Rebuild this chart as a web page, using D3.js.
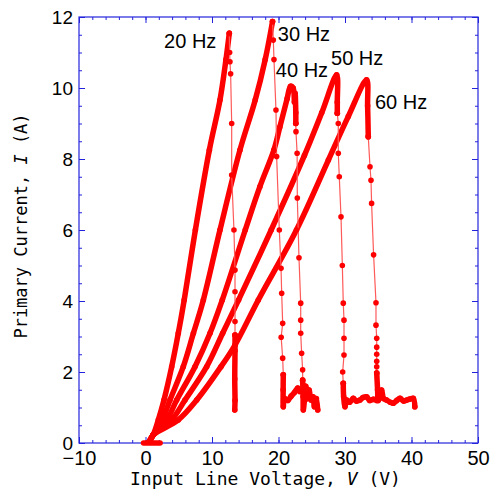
<!DOCTYPE html>
<html>
<head>
<meta charset="utf-8">
<script src="https://cdn.jsdelivr.net/npm/d3@7"></script>
<style>
  body { margin: 0; background: #fff; }
  svg { display: block; }
</style>
</head>
<body>
<div id="chart"></div>
<script>
// axis ranges and ticks
var xDomain = [-10, 50];
var yDomain = [0, 12];
var xMajor = [-10, 0, 10, 20, 30, 40, 50];
var yMajor = [0, 2, 4, 6, 8, 10, 12];

// flat run at zero current
var zeroRun = [[-0.3, 0], [0.6, 0], [1.4, 0], [2.2, 0]];

// 20 Hz
var hz20Rise = [[0.6,0.05],[1.17,0.23],[1.93,0.65],[2.78,1.21],[3.94,2.15],[4.93,3.09],[5.82,4.03],[7.5,6.0],[9.6,8.25],[11.2,9.66],[12.1,10.8],[12.6,11.54]];
var hz20Drop = [[12.6,11.54],[12.65,11.0],[12.7,10.74],[12.8,10.4],[12.96,9.0],[12.96,7.55],[13.3,6.0],[13.46,4.87],[13.46,4.26],[13.46,3.42],[13.46,3.04]];
var hz20Tail = [[13.46,3.04],[13.46,2.6],[13.42,1.8],[13.46,1.2],[13.42,0.93]];

// 30 Hz
var hz30Rise = [[0.6,0.05],[1.17,0.23],[2.53,0.65],[3.68,1.21],[5.68,2.15],[7.2,3.09],[8.7,4.03],[11.2,6.0],[14.2,8.25],[16.5,9.66],[18.0,10.8],[19.1,11.87]];
var hz30Drop = [[19.1,11.87],[19.22,11.35],[19.32,10.8],[19.62,9.38],[19.72,8.07],[20.12,6.0],[20.38,4.92],[20.48,4.22],[20.63,3.37],[20.4,2.98],[20.63,2.39],[20.72,1.92]];
var hz30Tail = [[20.72,1.92],[20.7,1.5],[20.72,1.02],[20.9,1.25],[21.4,1.2],[21.9,1.32],[22.4,1.42],[22.9,1.55],[23.2,1.45]];

// 40 Hz
var hz40Rise = [[0.6,0.05],[1.17,0.23],[3.2,0.65],[4.69,1.21],[7.44,2.15],[9.7,3.09],[11.55,4.03],[15.0,6.0],[17.2,7.22],[19.3,8.25],[20.2,8.9],[21.3,9.7],[21.8,10.05],[22.2,10.0],[22.4,9.6],[22.5,9.85],[22.6,9.3],[22.6,9.0]];
var hz40Drop = [[22.6,9.0],[22.63,8.77],[22.8,8.16],[22.83,6.9],[23.08,5.22],[23.34,3.94],[23.34,3.46],[23.34,3.09],[23.48,2.53],[23.63,2.06],[23.63,1.77]];
var hz40Tail = [[23.63,1.77],[23.7,1.3],[23.73,0.93],[23.9,1.2],[24.1,1.6],[24.3,1.25],[24.6,1.49],[24.9,1.21],[25.2,1.3],[25.4,1.02],[25.7,1.25],[25.9,0.93]];

// 50 Hz
var hz50Rise = [[0.6,0.05],[1.17,0.23],[3.94,0.65],[5.94,1.21],[9.2,2.15],[11.6,3.09],[14.0,4.03],[18.9,6.0],[23.9,8.1],[26.5,9.3],[28.75,10.37],[28.84,9.6],[28.84,9.29]];
var hz50Drop = [[28.84,9.29],[28.99,9.0],[28.99,8.16],[29.14,7.5],[29.4,6.37],[29.6,5.0],[29.74,3.94],[29.85,3.46],[29.85,2.95],[29.85,2.48],[29.65,2.0],[29.74,1.68]];
var hz50Tail = [[29.74,1.68],[29.8,1.3],[30.0,1.02],[30.25,1.21],[30.7,1.15],[31.25,1.26],[31.7,1.18],[32.25,1.21],[32.7,1.28],[33.26,1.3],[33.7,1.2],[34.26,1.23],[34.77,1.2]];

// 60 Hz
var hz60Rise = [[0.6,0.05],[1.17,0.23],[4.93,0.65],[7.7,1.21],[11.35,2.15],[13.46,2.76],[16.96,4.03],[22.7,6.0],[27.5,7.97],[30.5,9.2],[33.25,10.23],[33.4,9.5],[33.5,8.63]];
var hz60Drop = [[33.5,8.63],[33.76,7.78],[33.91,7.4],[34.0,6.75],[34.3,5.3],[34.66,3.95],[34.66,3.32],[34.77,2.95],[34.77,2.7],[34.77,2.5],[34.77,2.3],[34.77,2.15],[34.77,1.97]];
var hz60Tail = [[34.77,1.97],[34.9,1.5],[35.0,1.2],[35.5,1.49],[35.8,1.25],[36.25,1.21],[36.8,1.15],[37.26,1.12],[37.8,1.2],[38.27,1.26],[38.8,1.18],[39.28,1.21],[39.8,1.24],[40.27,1.26],[40.5,1.02]];

// curve labels (text, x, y in data units)
var curveLabels = [["20 Hz", 2.8, 11.13], ["30 Hz", 19.9, 11.32], ["40 Hz", 19.6, 10.31], ["50 Hz", 27.9, 10.65], ["60 Hz", 34.5, 9.41]];

var series = [
    {rise: hz20Rise, drop: hz20Drop, tail: hz20Tail},
    {rise: hz30Rise, drop: hz30Drop, tail: hz30Tail},
    {rise: hz40Rise, drop: hz40Drop, tail: hz40Tail},
    {rise: hz50Rise, drop: hz50Drop, tail: hz50Tail},
    {rise: hz60Rise, drop: hz60Drop, tail: hz60Tail}
];

var width = 494, height = 494;
var margin = {top: 17, right: 16, bottom: 51, left: 79};
var w = width - margin.left - margin.right;
var h = height - margin.top - margin.bottom;
var axisColor = "#2323dd";
var red = "#ff0000";

var svg = d3.select("#chart").append("svg")
    .attr("width", width)
    .attr("height", height);
var g = svg.append("g").attr("transform", "translate(" + margin.left + "," + margin.top + ")");

var x = d3.scaleLinear().domain(xDomain).range([0, w]);
var y = d3.scaleLinear().domain(yDomain).range([h, 0]);

var xMinor = d3.range(xDomain[0], xDomain[1] + 0.01, 2);
var yMinor = d3.range(yDomain[0], yDomain[1] + 0.01, 0.5);

function styleAxis(sel) {
    sel.select(".domain").remove();
    sel.selectAll("line").attr("stroke", axisColor);
    sel.selectAll("text").attr("fill", "#000")
        .style("font-family", "'Liberation Sans', Arial, sans-serif");
}

// minor ticks on all four sides
g.append("g").attr("transform", "translate(0," + h + ")")
    .call(d3.axisBottom(x).tickValues(xMinor).tickSize(-3).tickFormat("")).call(styleAxis);
g.append("g")
    .call(d3.axisTop(x).tickValues(xMinor).tickSize(-3).tickFormat("")).call(styleAxis);
g.append("g")
    .call(d3.axisLeft(y).tickValues(yMinor).tickSize(-3).tickFormat("")).call(styleAxis);
g.append("g").attr("transform", "translate(" + w + ",0)")
    .call(d3.axisRight(y).tickValues(yMinor).tickSize(-3).tickFormat("")).call(styleAxis);

// major ticks
g.append("g").attr("transform", "translate(0," + h + ")")
    .call(d3.axisBottom(x).tickValues(xMajor).tickSize(-6).tickPadding(8))
    .call(styleAxis)
    .selectAll("text").style("font-size", "20px");
g.append("g")
    .call(d3.axisTop(x).tickValues(xMajor).tickSize(-6).tickFormat("")).call(styleAxis);
g.append("g")
    .call(d3.axisLeft(y).tickValues(yMajor).tickSize(-6).tickPadding(6))
    .call(styleAxis)
    .selectAll("text").style("font-size", "19px");
g.append("g").attr("transform", "translate(" + w + ",0)")
    .call(d3.axisRight(y).tickValues(yMajor).tickSize(-6).tickFormat("")).call(styleAxis);

g.append("rect")
    .attr("width", w).attr("height", h)
    .attr("fill", "none")
    .attr("stroke", axisColor)
    .attr("stroke-width", 1.2);

var line = d3.line()
    .x(function(d) { return x(d[0]); })
    .y(function(d) { return y(d[1]); });
var smooth = d3.line()
    .x(function(d) { return x(d[0]); })
    .y(function(d) { return y(d[1]); })
    .curve(d3.curveCatmullRom.alpha(0.5));

var plot = g.append("g");

// dense runs of markers: drawn as a thick band
var dense = [zeroRun];
series.forEach(function(s) { dense.push(s.rise); dense.push(s.tail); });
plot.selectAll("path.dense")
    .data(dense)
    .enter().append("path")
    .attr("class", "dense")
    .attr("d", smooth)
    .attr("fill", "none")
    .attr("stroke", red)
    .attr("stroke-width", 5.5)
    .attr("stroke-linejoin", "round")
    .attr("stroke-linecap", "round");

// sparse drops: thin connecting line
plot.selectAll("path.drop")
    .data(series)
    .enter().append("path")
    .attr("class", "drop")
    .attr("d", function(d) { return line(d.drop); })
    .attr("fill", "none")
    .attr("stroke", "#ff5a5a")
    .attr("stroke-width", 1.2);

// markers
var pts = [];
series.forEach(function(s) { pts = pts.concat(s.rise, s.drop, s.tail); });
plot.selectAll("circle")
    .data(pts)
    .enter().append("circle")
    .attr("cx", function(d) { return x(d[0]); })
    .attr("cy", function(d) { return y(d[1]); })
    .attr("r", 2.8)
    .attr("fill", red);

// curve labels
g.selectAll("text.lab")
    .data(curveLabels)
    .enter().append("text")
    .attr("class", "lab")
    .attr("x", function(d) { return x(d[1]); })
    .attr("y", function(d) { return y(d[2]); })
    .style("font-family", "'Liberation Sans', Arial, sans-serif")
    .style("font-size", "20px")
    .attr("fill", "#000")
    .attr("xml:space", "preserve")
    .text(function(d) { return d[0]; });

// axis titles
var xt = svg.append("text")
    .attr("x", margin.left + w / 2 - 13)
    .attr("y", 485)
    .attr("text-anchor", "middle")
    .style("font-family", "'DejaVu Sans Mono', monospace")
    .style("font-size", "18px")
    .attr("fill", "#000")
    .attr("xml:space", "preserve");
xt.append("tspan").text("Input Line Voltage, ");
xt.append("tspan").style("font-style", "italic").text("V");
xt.append("tspan").text(" (V)");

var yt = svg.append("text")
    .attr("transform", "translate(27," + 226 + ") rotate(-90)")
    .attr("text-anchor", "middle")
    .style("font-family", "'DejaVu Sans Mono', monospace")
    .style("font-size", "17px")
    .attr("fill", "#000")
    .attr("xml:space", "preserve");
yt.append("tspan").text("Primary Current, ");
yt.append("tspan").style("font-style", "italic").text("I");
yt.append("tspan").text(" (A)");
</script>
</body>
</html>
